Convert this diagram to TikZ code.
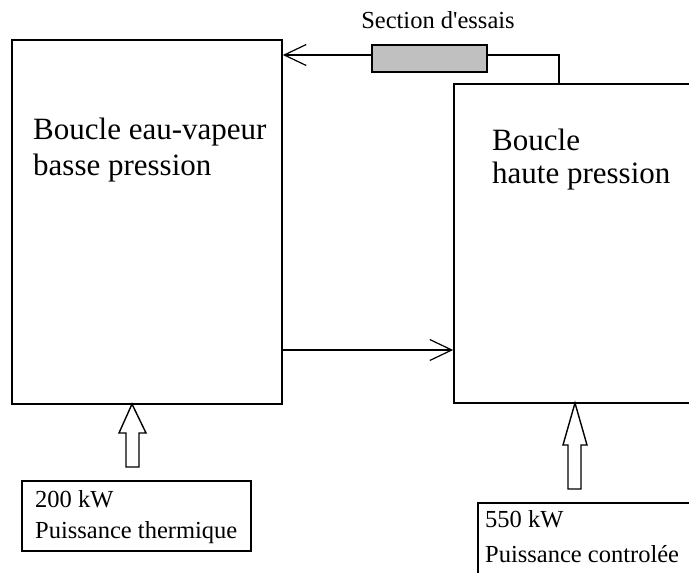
\documentclass[tikz,border=0pt]{standalone}
\usepackage{fontspec}
\setmainfont{Liberation Serif}[Ligatures=TeXOff]
\usetikzlibrary{arrows.meta}
\definecolor{secgray}{RGB}{192,192,192}
\begin{document}
\begin{tikzpicture}[x=1pt,y=-1pt,
  loopbox/.style={draw,line width=1.7pt,inner sep=0pt},
  bigtxt/.style={font=\fontsize{31}{36}\selectfont,anchor=base west,inner sep=0pt},
  smalltxt/.style={font=\fontsize{24.5}{30}\selectfont,anchor=base west,inner sep=0pt},
  flow/.style={line width=1.3pt,-{Straight Barb[length=22pt,width=21pt,line width=1.2pt]}},
  blockarrow/.style={draw,line width=1.4pt,fill=white},
  infobox/.style={draw,line width=1.3pt,inner sep=0pt}]
\useasboundingbox (0,0) rectangle (689,573);
\clip (0,0) rectangle (689,573);
\fill[white] (0,0) rectangle (689,573);
% main loops
\node[loopbox,minimum width=270pt,minimum height=364pt] (lp) at (147,222) {};
\node[loopbox,minimum width=256pt,minimum height=319pt] (hp) at (582,243.5) {};
\node[bigtxt] (lpt1) at (33,139) {Boucle eau-vapeur};
\node[bigtxt] (lpt2) at (33,175) {basse pression};
\node[bigtxt] (hpt1) at (492,150) {Boucle};
\node[bigtxt] (hpt2) at (492,183) {haute pression};
% test section
\node[draw,line width=1.4pt,fill=secgray,minimum width=115pt,minimum height=27pt,inner sep=0pt] (ts) at (429.5,58.5) {};
\node[smalltxt,anchor=base] (tst) at (438,28) {Section d'essais};
\coordinate (tsy) at (0,55);
\coordinate (c1) at (559,55);
\draw[line width=1.3pt] (ts.east |- tsy) -- (c1) -- (c1 |- hp.north);
\draw[flow] (ts.west |- tsy) -- (lp.east |- tsy);
% lower connection
\coordinate (ly) at (0,350);
\draw[flow] (lp.east |- ly) -- (hp.west |- ly);
% power boxes
\draw[infobox] (22,481) rectangle (251,551);
\node[smalltxt] (p1a) at (35,507) {200 kW};
\node[smalltxt] (p1b) at (35,538) {Puissance thermique};
\draw[infobox] (478,503) rectangle (720,600);
\node[smalltxt] (p2a) at (485,527) {550 kW};
\node[smalltxt] (p2b) at (485,562) {Puissance controlée};
% block arrows
\coordinate (a1) at (132,404);
\draw[blockarrow,miter limit=20] (a1) -- (146,433) -- (139,433) -- (139,467) -- (126,467) -- (126,433) -- (119,433) -- cycle;
\coordinate (a2) at (575,403);
\draw[blockarrow,miter limit=20] (a2) -- (587,445) -- (581,445) -- (581,489) -- (568,489) -- (568,445) -- (563,445) -- cycle;
\end{tikzpicture}
\end{document}
